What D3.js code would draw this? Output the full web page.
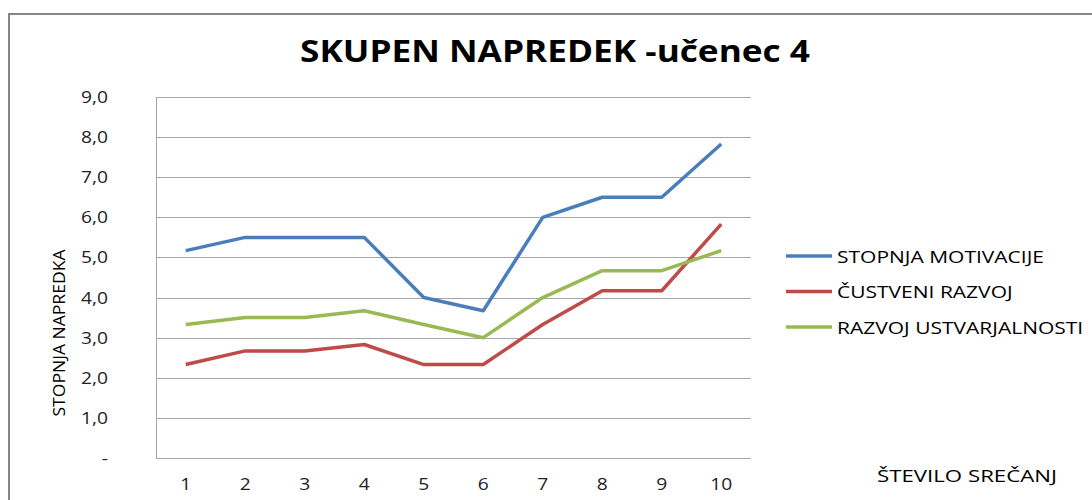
<!DOCTYPE html>
<html>
<head>
<meta charset="utf-8">
<script src="https://cdn.jsdelivr.net/npm/d3@7"></script>
<style>
  body { margin: 0; background: #fff; }
  text { font-family: "Open Sans", "DejaVu Sans", sans-serif; }
</style>
</head>
<body>
<div id="chart"></div>
<script>
// Data
const sessions = ['1', '2', '3', '4', '5', '6', '7', '8', '9', '10'];
const seriesNames = ['STOPNJA MOTIVACIJE', 'ČUSTVENI RAZVOJ', 'RAZVOJ USTVARJALNOSTI'];
const motivacija = [5.17, 5.5, 5.5, 5.5, 4.0, 3.67, 6.0, 6.5, 6.5, 7.83];
const custveni = [2.33, 2.67, 2.67, 2.83, 2.33, 2.33, 3.33, 4.17, 4.17, 5.83];
const ustvarjalnost = [3.33, 3.5, 3.5, 3.67, 3.33, 3.0, 4.0, 4.67, 4.67, 5.17];
const yTicks = [0, 1, 2, 3, 4, 5, 6, 7, 8, 9];
const colors = ['#4a7ebb', '#be4b48', '#98b954'];

const allSeries = [motivacija, custveni, ustvarjalnost];

const width = 1092, height = 500;
const margin = { left: 156, right: 341, top: 97, bottom: 42 };

const svg = d3.select('#chart')
  .append('svg')
  .attr('width', width)
  .attr('height', height);

// Stretch a text element horizontally by a factor (reference font is wide)
function stretch(sel, factor) {
  sel.each(function() {
    const w = this.getComputedTextLength();
    d3.select(this)
      .attr('textLength', w * factor)
      .attr('lengthAdjust', 'spacingAndGlyphs');
  });
}

// Outer frame
svg.append('rect')
  .attr('x', 9).attr('y', 14)
  .attr('width', 1200).attr('height', 600)
  .attr('fill', 'none')
  .attr('stroke', '#868686')
  .attr('stroke-width', 2);

// Scales
const x = d3.scaleBand()
  .domain(sessions)
  .range([margin.left, width - margin.right]);

const y = d3.scaleLinear()
  .domain([0, 9])
  .range([height - margin.bottom, margin.top]);

// Gridlines
svg.append('g')
  .selectAll('line')
  .data(yTicks)
  .enter().append('line')
  .attr('x1', margin.left)
  .attr('x2', width - margin.right)
  .attr('y1', d => Math.round(y(d)) + 0.5)
  .attr('y2', d => Math.round(y(d)) + 0.5)
  .attr('stroke', '#a6a6a6')
  .attr('stroke-width', 1);

// Left axis line
svg.append('line')
  .attr('x1', margin.left + 0.5).attr('x2', margin.left + 0.5)
  .attr('y1', y(9)).attr('y2', y(0))
  .attr('stroke', '#a6a6a6');

// Y tick labels
svg.append('g')
  .selectAll('text')
  .data(yTicks)
  .enter().append('text')
  .attr('x', 108)
  .attr('y', d => y(d) + 6)
  .attr('text-anchor', 'end')
  .attr('font-size', 16)
  .attr('fill', '#222')
  .text(d => d === 0 ? '-' : d.toFixed(1).replace('.', ','))
  .call(stretch, 1.2);

// X tick labels
svg.append('g')
  .selectAll('text')
  .data(sessions)
  .enter().append('text')
  .attr('x', d => x(d) + x.bandwidth() / 2)
  .attr('y', 490)
  .attr('text-anchor', 'middle')
  .attr('font-size', 16)
  .attr('fill', '#222')
  .text(d => d)
  .call(stretch, 1.2);

// Lines
const line = d3.line()
  .x((d, i) => x(sessions[i]) + x.bandwidth() / 2)
  .y(d => y(d));

svg.append('g')
  .selectAll('path')
  .data(allSeries)
  .enter().append('path')
  .attr('d', d => line(d))
  .attr('fill', 'none')
  .attr('stroke', (d, i) => colors[i])
  .attr('stroke-width', 3.5)
  .attr('stroke-linejoin', 'round');

// Title
svg.append('text')
  .attr('x', 555)
  .attr('y', 62)
  .attr('text-anchor', 'middle')
  .attr('font-size', 31)
  .attr('font-weight', 'bold')
  .attr('fill', '#000')
  .text('SKUPEN NAPREDEK -učenec 4')
  .attr('textLength', 510)
  .attr('lengthAdjust', 'spacingAndGlyphs');

// Y axis title
svg.append('text')
  .attr('transform', 'translate(65,333) rotate(-90)')
  .attr('text-anchor', 'middle')
  .attr('font-size', 17)
  .attr('fill', '#000')
  .text('STOPNJA NAPREDKA')
  .attr('textLength', 167)
  .attr('lengthAdjust', 'spacingAndGlyphs');

// X axis title
svg.append('text')
  .attr('x', 967)
  .attr('y', 482)
  .attr('text-anchor', 'middle')
  .attr('font-size', 17)
  .attr('fill', '#000')
  .text('ŠTEVILO SREČANJ')
  .attr('textLength', 180)
  .attr('lengthAdjust', 'spacingAndGlyphs');

// Legend
const legend = svg.append('g')
  .selectAll('g')
  .data(seriesNames)
  .enter().append('g')
  .attr('transform', (d, i) => `translate(786, ${256 + i * 35.5})`);

legend.append('line')
  .attr('x1', 0).attr('x2', 46)
  .attr('stroke', (d, i) => colors[i])
  .attr('stroke-width', 3.5);

const legendText = legend.append('text')
  .attr('x', 51)
  .attr('y', 6.5)
  .attr('font-size', 17)
  .attr('fill', '#000')
  .text(d => d);

// Scale all legend labels by the same factor so the first one matches the reference width
const firstW = legendText.node().getComputedTextLength();
legendText.call(stretch, 207 / firstW);
</script>
</body>
</html>
